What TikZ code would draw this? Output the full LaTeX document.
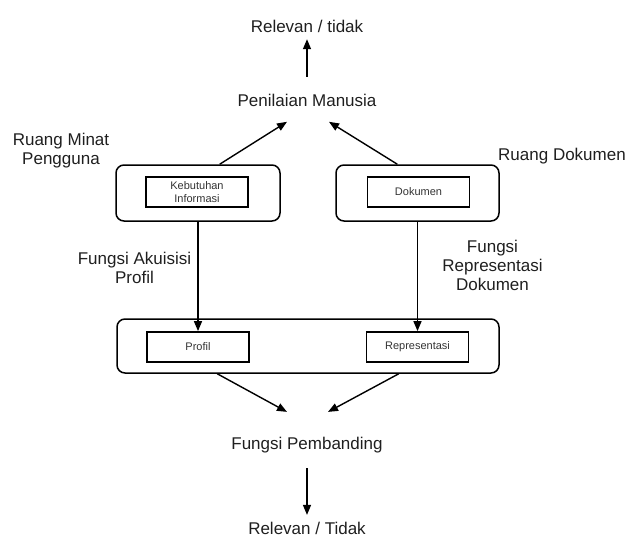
\documentclass[tikz,border=0pt]{standalone}
\usepackage{fontspec}
\setmainfont{Liberation Sans}
\usetikzlibrary{arrows.meta,calc}
\begin{document}
\begin{tikzpicture}[x=1pt,y=-1pt,
  lbl/.style={inner sep=0pt,font=\fontsize{17}{19}\selectfont,align=center,text=black!88},
  onel/.style={inner sep=0pt,font=\fontsize{17}{19}\selectfont,text height=12.4pt,text depth=3.6pt,text=black!88},
  outerbox/.style={draw,line width=1.5pt,rounded corners=8pt,inner sep=0pt},
  innerbox/.style={draw,line width=1.8pt,inner sep=0pt,minimum width=102pt,minimum height=30pt,font=\fontsize{11}{13}\selectfont,align=center,text=black!80},
  arr/.style={line width=1.4pt,-{Triangle[length=10pt,width=8pt]}}]
\path[use as bounding box] (0,0) rectangle (627,539);
% text nodes
\node[onel,anchor=base] (rel1) at (307,32) {Relevan / tidak};
\node[onel,anchor=base] (pen) at (307,106) {Penilaian Manusia};
\node[lbl] (rmp) at (61,150.5) {Ruang Minat\\Pengguna};
\node[onel,anchor=base] (rdok) at (562,160) {Ruang Dokumen};
\node[lbl] (fap) at (134.5,267.5) {Fungsi Akuisisi\\Profil};
\node[lbl] (frd) at (492.5,265) {Fungsi\\Representasi\\Dokumen};
\node[onel,anchor=base] (fp) at (307,449) {Fungsi Pembanding};
\node[onel,anchor=base] (rel2) at (307,534.5) {Relevan / Tidak};
% boxes
\node[outerbox,minimum width=164pt,minimum height=56pt] (lbox) at (198,193) {};
\node[outerbox,minimum width=163pt,minimum height=56pt] (rbox) at (417.5,193) {};
\node[outerbox,minimum width=382pt,minimum height=54pt] (bbox) at (308,346) {};
\node[innerbox] (keb) at (197,192) {Kebutuhan\\Informasi};
\node[innerbox] (dok) at (418.5,192) {Dokumen};
\node[innerbox] (pro) at (198,347) {Profil};
\node[innerbox] (rep) at (417.5,347) {Representasi};
% connectors
\draw[arr,shorten <=16.5pt,shorten >=3.4pt] (pen.north) -- (rel1.south);
\draw[arr] (lbox.53) -- ($(pen.south)+(-20,12)$);
\draw[arr] (rbox.125) -- ($(pen.south)+(22,12)$);
\draw[arr] (lbox.south) -- (pro.north);
\draw[arr] (rbox.south) -- (rep.north);
\draw[arr] (bbox.197) -- ($(fp.north)+(-20,-24.5)$);
\draw[arr] (bbox.-17) -- ($(fp.north)+(21,-24.5)$);
\draw[arr,shorten <=15.4pt,shorten >=7pt] (fp.south) -- (rel2.north);
\end{tikzpicture}
\end{document}
